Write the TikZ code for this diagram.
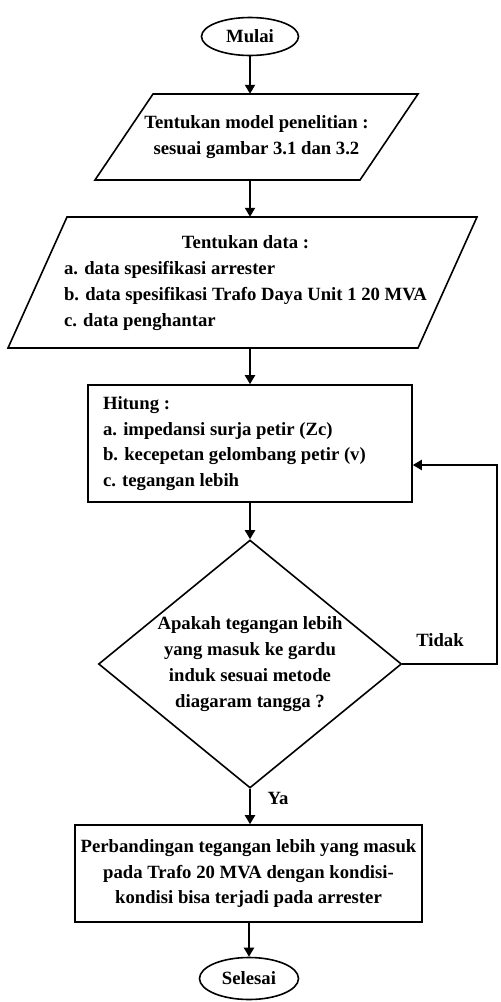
\documentclass[tikz,border=0pt]{standalone}
\usepackage{fontspec}
\setmainfont{Liberation Serif}
\usetikzlibrary{shapes.geometric,arrows.meta,calc}
\begin{document}
\begin{tikzpicture}[x=1pt,y=-1pt,
  txt/.style={font=\fontsize{18.7}{25.8}\selectfont\bfseries, text=black},
  shapeline/.style={draw=black, line width=1.6pt},
  arrowline/.style={draw=black, line width=2pt, -{Triangle[length=9pt,width=10pt]}},
  terminal/.style={txt, shapeline, ellipse, inner sep=0pt, minimum width=97pt, minimum height=38pt},
  iobox/.style={txt, inner sep=0pt},
  procbox/.style={txt, shapeline, rectangle},
  decision/.style={txt, shapeline, diamond, inner sep=0pt, aspect=1.222, align=center, minimum width=303pt, minimum height=248pt},
  lbl/.style={txt}
]
\useasboundingbox (0,0) rectangle (501,1002);

% Start
\node[terminal] (mulai) at (250,36.5) {Mulai};

% Input 1 (parallelogram)
\node[iobox, align=center, minimum height=86pt] (p1) at (256.5,137) {Tentukan model penelitian :\\sesuai gambar 3.1 dan 3.2};
\draw[shapeline, line join=miter] (95,180) -- (153,94) -- (418,94) -- (360,180) -- cycle;

% Input 2 (parallelogram)
\node[iobox, minimum height=131pt] (p2) at (245.5,282.5)
  {\begin{tabular}{@{}l@{}}\multicolumn{1}{@{}c@{}}{Tentukan data :}\\
   a. data spesifikasi arrester\\
   b. data spesifikasi Trafo Daya Unit 1 20 MVA\\
   c. data penghantar\end{tabular}};
\draw[shapeline, line join=miter] (8,348) -- (67,217) -- (477,217) -- (418,348) -- cycle;

% Process
\node[procbox, align=flush left, text width=294pt, inner xsep=15pt, inner ysep=0pt, minimum height=117pt] (r3) at (250,443.5)
  {Hitung :\\a. impedansi surja petir (Zc)\\b. kecepetan gelombang petir (v)\\c. tegangan lebih};

% Decision
\node[decision] (dia) at (250,664)
  {Apakah tegangan lebih\\yang masuk ke gardu\\induk sesuai metode\\diagaram tangga ?};

% Result
\node[procbox, align=center, inner sep=0pt, minimum width=347pt, minimum height=97pt] (r5) at (248.5,873.5)
  {Perbandingan tegangan lebih yang masuk\\pada Trafo 20 MVA dengan kondisi-\\kondisi bisa terjadi pada arrester};

% End
\node[terminal, minimum height=42pt, minimum width=99pt] (sel) at (249,978.5) {Selesai};

% Labels
\node[lbl] (tidak) at (440,640) {Tidak};
\node[lbl] (ya) at (278,798) {Ya};

% Loop coordinates
\coordinate (c1) at (497,663);
\coordinate (c2) at (497,465);

% Connectors
\draw[arrowline] (mulai.south) -- (mulai.south |- p1.north);
\draw[arrowline] (mulai.south |- p1.south) -- (mulai.south |- p2.north);
\draw[arrowline] (r3.north |- p2.south) -- (r3.north);
\draw[arrowline] (r3.south) -- (dia.north);
\draw[arrowline] (dia.south) -- (dia.south |- r5.north);
\draw[arrowline] (r5.south -| sel.north) -- (sel.north);
\draw[arrowline] (dia.east) -- (dia.east -| c1) -- (c2) -- (c2 -| r3.east);
\end{tikzpicture}
\end{document}
